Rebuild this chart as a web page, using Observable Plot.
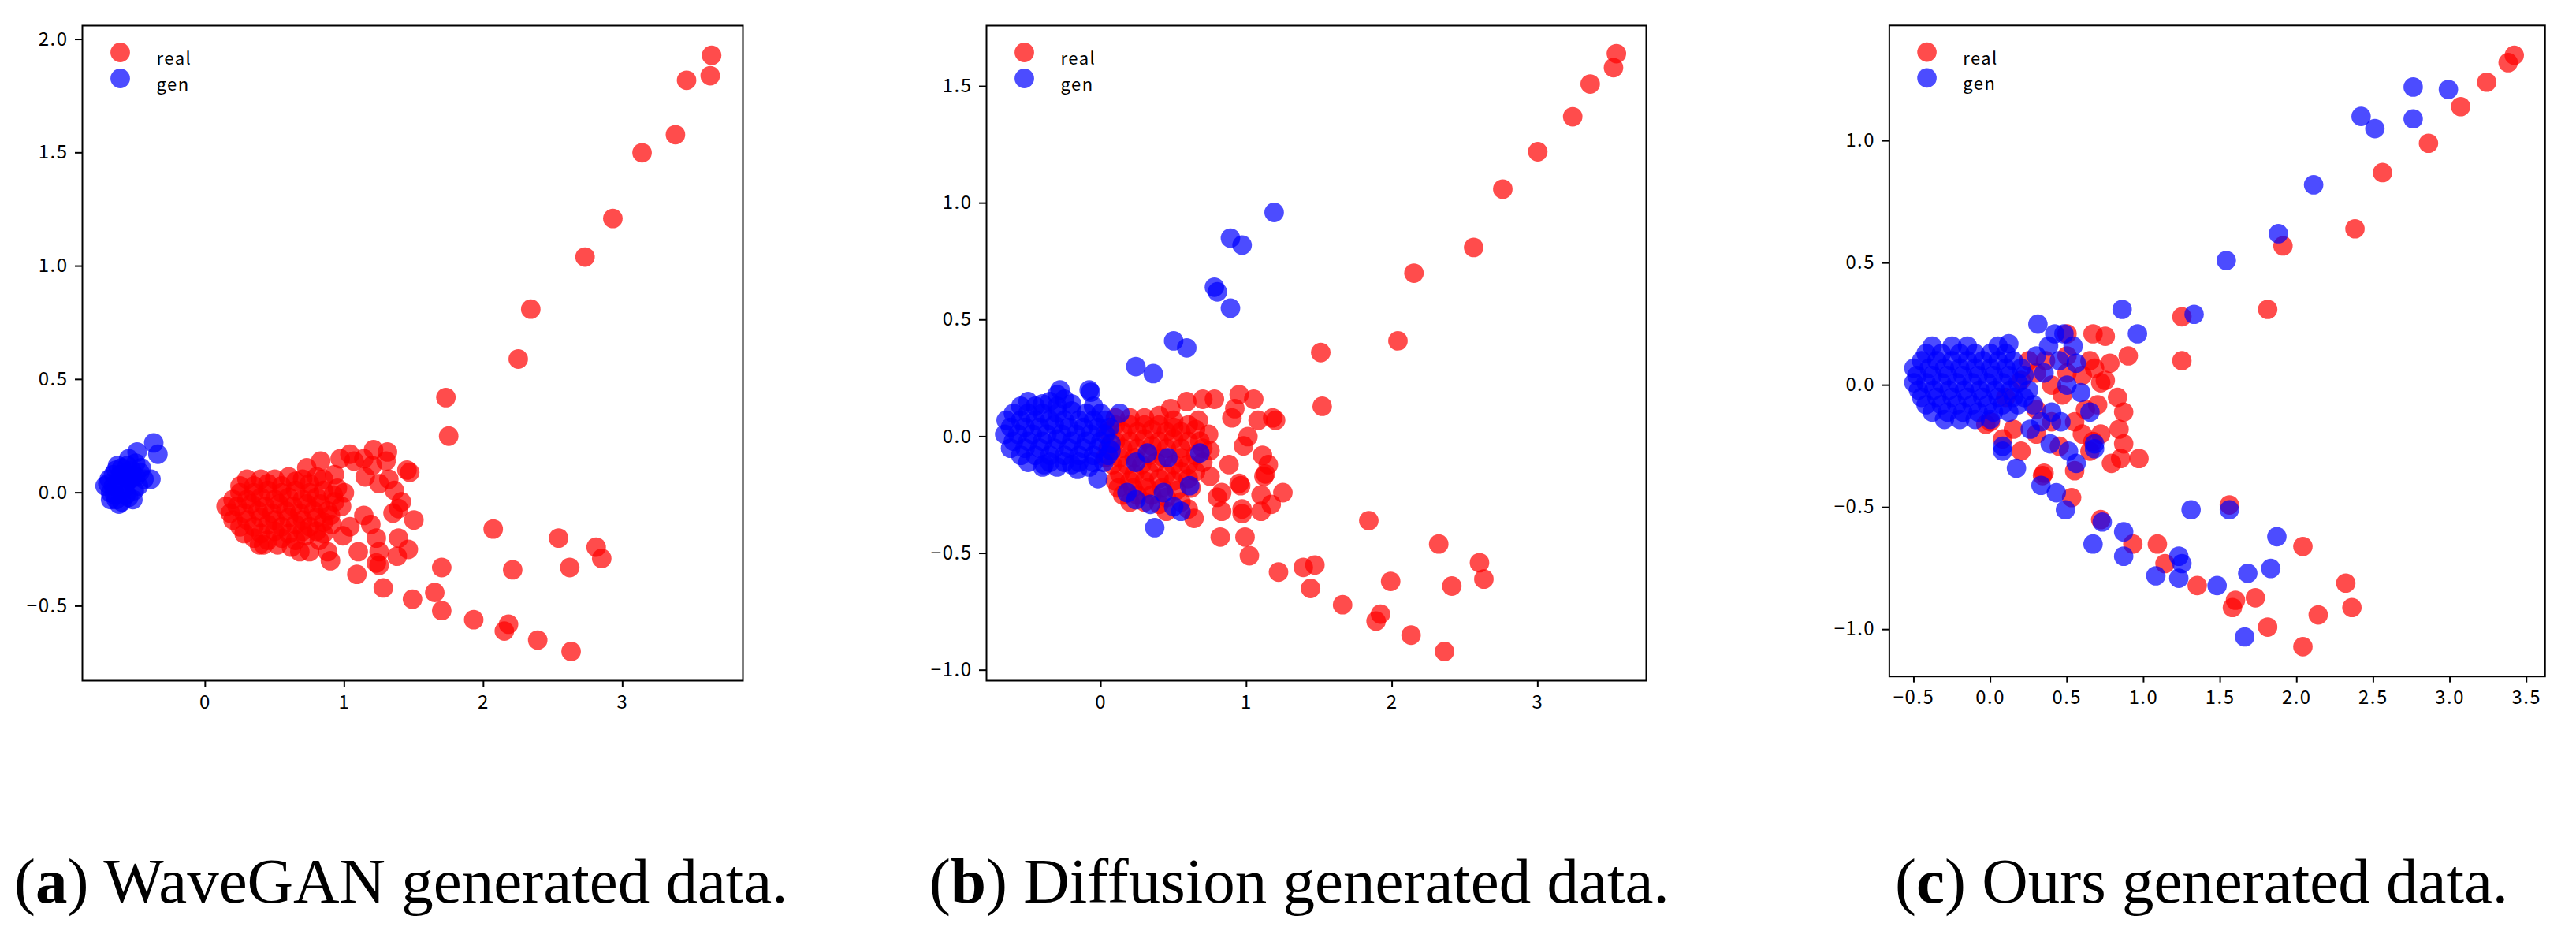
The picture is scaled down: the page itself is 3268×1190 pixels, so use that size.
<!DOCTYPE html>
<html><head><meta charset="utf-8">
<script src="https://cdn.jsdelivr.net/npm/d3@7"></script>
<script src="https://cdn.jsdelivr.net/npm/@observablehq/plot@0.6"></script>
<style>
html,body{margin:0;padding:0;background:#fff;}
body{width:3268px;height:1190px;position:relative;overflow:hidden;}
.panel{position:absolute;top:0;}
.panel svg text{letter-spacing:1.5px;}
.cap{position:absolute;top:1078px;font-family:"Liberation Serif",serif;font-size:81px;line-height:1;white-space:nowrap;color:#000;}
</style></head><body>
<div id="pa" class="panel" style="left:0px"></div>
<div id="pb" class="panel" style="left:1147px"></div>
<div id="pc" class="panel" style="left:2293px"></div>
<div class="cap" style="left:18px">(<b>a</b>) WaveGAN generated data.</div>
<div class="cap" style="left:1179px">(<b>b</b>) Diffusion generated data.</div>
<div class="cap" style="left:2404px">(<b>c</b>) Ours generated data.</div>
<script>
// ---------- Panel (a): WaveGAN ----------
const aReal = [
  [3.64,1.93],[3.63,1.84],[3.46,1.82],[3.38,1.58],[3.14,1.50],[2.93,1.21],[2.73,1.04],[2.34,0.81],[2.25,0.59],
  [1.73,0.42],[1.75,0.25],[2.07,-0.16],[2.54,-0.20],[2.81,-0.24],[2.85,-0.29],[2.62,-0.33],[2.21,-0.34],
  [1.70,-0.33],[1.65,-0.44],[1.70,-0.52],[1.49,-0.47],[1.28,-0.42],[1.09,-0.36],[1.93,-0.56],[2.18,-0.58],
  [2.15,-0.61],[2.39,-0.65],[2.63,-0.70],
  [1.50,-0.12],[1.47,0.09],[1.45,0.10],[1.46,-0.25],[1.39,-0.20],[1.38,-0.28],[1.41,-0.04],[1.36,0.01],
  [1.31,0.18],[1.21,0.19],[1.30,0.14],[1.14,0.15],[1.04,0.17],[0.97,0.15],[0.83,0.14],[0.73,0.11],
  [1.15,0.07],[1.25,0.04],[1.35,-0.09],[1.39,-0.07],[1.14,-0.10],[1.19,-0.14],[1.04,-0.15],[0.99,-0.19],
  [1.23,-0.20],[1.25,-0.26],[1.23,-0.31],[1.25,-0.32],[1.10,-0.26],[0.90,-0.30],[0.88,-0.26],[0.75,-0.26],
  [0.68,-0.26],[0.39,-0.23],[0.91,-0.14],[0.85,-0.18],[1.07,0.14],[1.20,0.12],[1.32,0.06],[0.93,0.08],[0.98,-0.06],
  [0.25,0.03],[0.35,0.03],[0.45,0.04],[0.55,0.03],[0.65,0.05],[0.75,0.04],[0.85,0.06],
  [0.20,-0.03],[0.30,-0.03],[0.40,-0.02],[0.50,-0.03],[0.60,-0.02],[0.70,-0.03],[0.80,-0.02],[0.92,-0.01],[1.00,0.00],
  [0.18,-0.09],[0.28,-0.09],[0.38,-0.08],[0.48,-0.09],[0.58,-0.08],[0.68,-0.09],[0.78,-0.08],[0.88,-0.08],
  [0.25,-0.15],[0.35,-0.15],[0.45,-0.14],[0.55,-0.15],[0.65,-0.14],[0.75,-0.15],[0.85,-0.13],
  [0.35,-0.20],[0.45,-0.21],[0.55,-0.20],[0.65,-0.21],[0.72,-0.19],[0.82,-0.21],
  [0.30,0.06],[0.40,0.06],[0.50,0.06],[0.60,0.07],[0.70,0.06],[0.80,0.07],
  [0.25,0.00],[0.35,0.00],[0.45,0.01],[0.55,0.00],[0.65,0.01],[0.75,0.00],[0.85,0.01],[0.95,0.02],
  [0.15,-0.06],[0.23,-0.06],[0.33,-0.05],[0.43,-0.06],[0.53,-0.05],[0.63,-0.06],[0.73,-0.05],[0.83,-0.05],[0.93,-0.04],
  [0.20,-0.12],[0.30,-0.12],[0.40,-0.11],[0.50,-0.12],[0.60,-0.11],[0.70,-0.12],[0.80,-0.11],[0.90,-0.10],
  [0.28,-0.18],[0.40,-0.18],[0.50,-0.17],[0.60,-0.18],[0.70,-0.17],[0.80,-0.17],
  [0.42,-0.23],[0.52,-0.23],[0.62,-0.24]
];
const aGen = [
  [-0.37,0.22],[-0.34,0.17],[-0.49,0.18],[-0.39,0.06],[-0.52,-0.03],[-0.70,0.04],[-0.68,0.00],[-0.66,0.08],
  [-0.64,-0.03],[-0.62,0.05],[-0.60,0.11],[-0.58,0.02],[-0.56,0.12],[-0.55,-0.02],[-0.52,0.07],[-0.50,0.13],
  [-0.48,0.03],[-0.47,0.09],[-0.60,-0.04],[-0.66,0.03],[-0.72,0.03],[-0.44,0.06],[-0.64,0.10],[-0.58,0.07],
  [-0.69,0.06],[-0.65,-0.01],[-0.61,0.08],[-0.57,0.04],[-0.53,0.10],[-0.51,0.01],[-0.63,0.12],[-0.55,0.15],
  [-0.68,-0.03],[-0.62,-0.05],[-0.57,-0.01],[-0.54,0.06],[-0.46,0.11],[-0.50,0.07]
];
const aXTicks = [0, 1, 2, 3];
const aYTicks = [-0.5, 0, 0.5, 1.0, 1.5, 2.0];

// ---------- Panel (b): Diffusion ----------
const bReal = [
  [3.54,1.64],[3.52,1.58],[3.36,1.51],[3.24,1.37],[3.00,1.22],[2.76,1.06],[2.56,0.81],[2.15,0.70],[2.04,0.41],
  [1.51,0.36],[1.52,0.13],[1.84,-0.36],[2.32,-0.46],[2.60,-0.54],[2.63,-0.61],[2.41,-0.64],[1.99,-0.62],
  [1.47,-0.55],[1.39,-0.56],[1.44,-0.65],[1.66,-0.72],[1.92,-0.76],[1.89,-0.79],[2.13,-0.85],[2.36,-0.92],
  [1.22,-0.58],[1.02,-0.51],[0.99,-0.43],[0.82,-0.43],[0.64,-0.35],
  [1.25,-0.24],[1.20,0.07],[1.18,0.08],[1.08,0.07],[1.05,0.16],[0.95,0.18],[0.90,0.08],[1.01,0.00],[0.98,-0.04],
  [1.11,-0.08],[1.15,-0.12],[1.13,-0.16],[1.10,-0.25],[1.17,-0.29],[1.10,-0.32],[0.97,-0.31],[0.83,-0.32],
  [0.95,-0.20],[0.88,-0.12],[0.83,-0.24],[0.75,-0.17],[0.80,-0.26],[0.78,0.16],[0.70,0.16],[0.59,0.15],
  [0.48,0.12],[0.67,0.07],[0.74,0.01],[0.75,-0.06],[0.96,-0.21],[1.12,-0.17],[0.97,-0.33],[0.92,0.12],
  [0.62,-0.22],[0.55,-0.28],
  [0.10,0.08],[0.20,0.08],[0.30,0.08],[0.40,0.09],[0.50,0.07],
  [0.05,0.02],[0.15,0.02],[0.25,0.02],[0.35,0.03],[0.45,0.02],[0.55,0.02],[0.65,0.03],
  [0.05,-0.05],[0.15,-0.05],[0.25,-0.05],[0.35,-0.04],[0.45,-0.05],[0.55,-0.05],[0.70,-0.05],
  [0.08,-0.12],[0.18,-0.12],[0.28,-0.12],[0.38,-0.11],[0.50,-0.12],[0.60,-0.12],[0.70,-0.11],
  [0.10,-0.19],[0.20,-0.19],[0.30,-0.19],[0.40,-0.18],[0.50,-0.19],[0.60,-0.18],
  [0.15,-0.25],[0.25,-0.25],[0.35,-0.25],[0.45,-0.26],[0.45,-0.32],[0.60,-0.31],
  [0.10,0.05],[0.20,0.05],[0.30,0.05],[0.40,0.05],[0.50,0.04],[0.60,0.05],
  [0.10,-0.02],[0.20,-0.02],[0.30,-0.01],[0.40,-0.02],[0.50,-0.01],[0.60,-0.02],[0.68,-0.02],
  [0.03,-0.09],[0.13,-0.09],[0.23,-0.09],[0.33,-0.08],[0.43,-0.09],[0.55,-0.09],[0.65,-0.08],
  [0.13,-0.16],[0.23,-0.16],[0.33,-0.15],[0.45,-0.16],[0.55,-0.15],[0.65,-0.15],
  [0.12,-0.22],[0.22,-0.22],[0.32,-0.22],[0.42,-0.22],[0.52,-0.23],
  [0.20,-0.28],[0.30,-0.28],[0.40,-0.29]
];
const bGen = [
  [1.19,0.96],[0.89,0.85],[0.97,0.82],[0.78,0.64],[0.80,0.62],[0.89,0.55],[0.50,0.41],[0.59,0.38],[0.24,0.30],
  [0.36,0.27],[-0.08,0.20],[-0.07,0.19],[0.13,0.10],[0.37,-0.39],[0.55,-0.32],[0.50,-0.30],[0.34,-0.29],
  [0.24,-0.27],[0.18,-0.24],[0.43,-0.24],[0.61,-0.21],[0.68,-0.07],[0.46,-0.09],[0.32,-0.07],[0.24,-0.11],
  [-0.02,-0.18],[-0.16,-0.14],[-0.39,-0.12],[-0.28,0.20],[-0.30,0.18],
  [-0.50,0.15],[-0.35,0.15],[-0.25,0.16],
  [-0.60,0.10],[-0.50,0.10],[-0.40,0.10],[-0.30,0.10],[-0.20,0.11],[-0.10,0.10],[0.00,0.10],
  [-0.62,0.04],[-0.52,0.04],[-0.42,0.04],[-0.32,0.05],[-0.22,0.04],[-0.12,0.04],[-0.02,0.04],[0.06,0.04],
  [-0.60,-0.02],[-0.50,-0.02],[-0.40,-0.02],[-0.30,-0.01],[-0.20,-0.02],[-0.10,-0.02],[0.00,-0.02],[0.07,-0.03],
  [-0.55,-0.08],[-0.45,-0.08],[-0.35,-0.08],[-0.25,-0.08],[-0.15,-0.08],[-0.05,-0.08],[0.05,-0.08],
  [-0.40,-0.13],[-0.30,-0.13],[-0.20,-0.12],[-0.08,-0.13],
  [-0.55,0.13],[-0.45,0.13],[-0.40,0.14],[-0.30,0.13],[-0.20,0.14],[-0.05,0.13],
  [-0.65,0.07],[-0.55,0.07],[-0.45,0.07],[-0.35,0.07],[-0.25,0.07],[-0.15,0.07],[-0.05,0.07],[0.03,0.07],
  [-0.66,0.01],[-0.57,0.01],[-0.47,0.01],[-0.37,0.01],[-0.27,0.01],[-0.17,0.01],[-0.07,0.01],[0.03,0.01],
  [-0.62,-0.05],[-0.52,-0.05],[-0.42,-0.05],[-0.32,-0.05],[-0.22,-0.05],[-0.12,-0.05],[-0.02,-0.05],[0.07,-0.06],
  [-0.50,-0.11],[-0.35,-0.11],[-0.25,-0.11],[-0.15,-0.11],[-0.05,-0.11],[0.02,-0.11]
];
const bXTicks = [0, 1, 2, 3];
const bYTicks = [-1.0, -0.5, 0, 0.5, 1.0, 1.5];

// ---------- Panel (c): Ours ----------
const cReal = [
  [3.42,1.35],[3.38,1.32],[3.24,1.24],[3.07,1.14],[2.86,0.99],[2.56,0.87],[2.38,0.64],[1.91,0.57],[1.81,0.31],
  [1.25,0.28],[1.25,0.10],[1.56,-0.49],[2.04,-0.66],[2.32,-0.81],[2.36,-0.91],[2.14,-0.94],[1.73,-0.87],
  [1.60,-0.88],[1.58,-0.91],[1.81,-0.99],[2.04,-1.07],[1.35,-0.82],[1.14,-0.73],[1.09,-0.65],[0.93,-0.65],
  [0.72,-0.55],[0.53,-0.46],[0.35,-0.36],[0.34,-0.37],[0.55,-0.35],[0.97,-0.30],[0.85,-0.30],[0.79,-0.32],
  [0.87,-0.24],[0.84,-0.18],[0.87,-0.11],[0.83,-0.05],[0.75,0.02],[0.72,0.01],[0.78,0.09],[0.90,0.12],
  [0.75,0.20],[0.67,0.21],[0.68,0.07],[0.65,-0.27],[0.67,-0.23],[0.20,-0.27],[0.08,-0.22],[-0.03,-0.16],
  [0.50,0.21],[0.47,-0.04],[0.36,0.10],[0.10,-0.05],[0.20,0.02],[0.30,-0.10],[0.40,0.00],[0.50,0.05],
  [0.55,-0.15],[0.60,-0.20],[0.30,-0.20],[0.15,-0.18],[0.65,0.10],[0.70,-0.08],[0.45,-0.25],[0.50,0.12],
  [0.00,-0.15],[0.60,0.04],[0.40,-0.15],[0.25,0.10],[0.30,0.05],[0.62,-0.10],[0.72,-0.20]
];
const cGen = [
  [2.76,1.22],[2.99,1.21],[2.76,1.09],[2.42,1.10],[2.51,1.05],[2.11,0.82],[1.88,0.62],[1.54,0.51],[1.33,0.29],
  [0.86,0.31],[0.96,0.21],[0.31,0.25],[1.31,-0.51],[1.56,-0.51],[0.73,-0.56],[1.87,-0.62],[1.83,-0.75],
  [1.68,-0.77],[1.48,-0.82],[1.23,-0.70],[1.25,-0.73],[1.23,-0.79],[1.08,-0.78],[0.87,-0.70],[0.87,-0.60],
  [0.67,-0.65],[1.66,-1.03],[0.49,-0.51],[0.43,-0.44],[0.33,-0.41],[0.17,-0.34],[0.08,-0.27],[0.08,-0.25],
  [0.56,-0.32],[0.51,-0.27],[0.39,-0.24],[0.68,-0.24],[0.68,-0.26],[0.65,-0.11],[0.59,-0.03],[0.56,0.09],
  [0.54,0.16],[0.42,0.21],[0.48,0.21],[0.40,-0.11],[0.46,-0.15],[0.26,-0.18],
  [0.30,0.12],[0.35,0.05],[0.28,-0.08],[0.38,0.16],[0.45,0.10],[0.33,-0.15],[0.50,0.00],
  [-0.38,0.16],[-0.25,0.16],[-0.15,0.16],[0.05,0.16],[0.12,0.17],
  [-0.45,0.10],[-0.35,0.10],[-0.25,0.10],[-0.15,0.10],[-0.05,0.10],[0.05,0.10],[0.15,0.10],
  [-0.48,0.04],[-0.38,0.04],[-0.28,0.04],[-0.18,0.04],[-0.08,0.04],[0.02,0.04],[0.12,0.04],[0.22,0.04],
  [-0.47,-0.02],[-0.37,-0.02],[-0.27,-0.02],[-0.17,-0.02],[-0.07,-0.02],[0.03,-0.02],[0.13,-0.02],[0.25,-0.02],
  [-0.42,-0.08],[-0.32,-0.08],[-0.22,-0.08],[-0.12,-0.08],[-0.02,-0.08],[0.08,-0.08],[0.18,-0.08],
  [-0.30,-0.14],[-0.20,-0.14],[-0.10,-0.14],[0.00,-0.14],
  [-0.42,0.13],[-0.32,0.13],[-0.20,0.13],[-0.10,0.13],[0.00,0.13],[0.10,0.13],
  [-0.50,0.07],[-0.40,0.07],[-0.30,0.07],[-0.20,0.07],[-0.10,0.07],[0.00,0.07],[0.10,0.07],[0.20,0.07],
  [-0.50,0.01],[-0.42,0.01],[-0.32,0.01],[-0.22,0.01],[-0.12,0.01],[-0.02,0.01],[0.08,0.01],[0.18,0.01],
  [-0.45,-0.05],[-0.35,-0.05],[-0.25,-0.05],[-0.15,-0.05],[-0.05,-0.05],[0.05,-0.05],[0.15,-0.05],[0.22,-0.05],
  [-0.38,-0.11],[-0.28,-0.11],[-0.18,-0.11],[-0.08,-0.11],[0.02,-0.11],[0.12,-0.11]
];
const cXTicks = [-0.5, 0.0, 0.5, 1.0, 1.5, 2.0, 2.5, 3.0, 3.5];
const cYTicks = [-1.0, -0.5, 0.0, 0.5, 1.0];

const legendLabels = ["real", "gen"];
const seriesColors = ["red", "blue"];

function panel(real, gen, xDomain, yDomain, xTicks, yTicks, xFmt, frameW) {
  const realRows = real.map(([x, y]) => ({x, y}));
  const genRows = gen.map(([x, y]) => ({x, y}));
  const R = 12.4;
  return Plot.plot({
    width: 104 + frameW + 40, height: 930,
    marginLeft: 104, marginRight: 40, marginTop: 32, marginBottom: 67,
    style: {fontFamily: "'Noto Sans CJK SC', sans-serif", fontSize: "24px", color: "black", background: "white"},
    x: {domain: xDomain, label: null},
    y: {domain: yDomain, label: null},
    marks: [
      Plot.dot(realRows, {x: "x", y: "y", r: R, fill: seriesColors[0], fillOpacity: 0.7, stroke: "none"}),
      Plot.dot(genRows, {x: "x", y: "y", r: R, fill: seriesColors[1], fillOpacity: 0.7, stroke: "none"}),
      Plot.frame({stroke: "black", strokeWidth: 2}),
      Plot.axisX(xTicks, {label: null, tickSize: 8, tickPadding: 10, tickFormat: xFmt, strokeWidth: 2, fontSize: 24}),
      Plot.axisY(yTicks, {label: null, tickSize: 9, tickPadding: 9, tickFormat: d3.format(".1f"), strokeWidth: 2, fontSize: 24}),
      Plot.dot([legendLabels[0]], {frameAnchor: "top-left", dx: 48, dy: 34, r: R, fill: seriesColors[0], fillOpacity: 0.7}),
      Plot.dot([legendLabels[1]], {frameAnchor: "top-left", dx: 48, dy: 67, r: R, fill: seriesColors[1], fillOpacity: 0.7}),
      Plot.text([legendLabels[0]], {frameAnchor: "top-left", dx: 94, dy: 34, text: d => d, textAnchor: "start", fontSize: 22, fill: "black"}),
      Plot.text([legendLabels[1]], {frameAnchor: "top-left", dx: 94, dy: 67, text: d => d, textAnchor: "start", fontSize: 22, fill: "black"})
    ]
  });
}

document.getElementById("pa").append(panel(aReal, aGen, [-0.883, 3.865], [-0.829, 2.061], aXTicks, aYTicks, d3.format("d"), 838));
document.getElementById("pb").append(panel(bReal, bGen, [-0.785, 3.745], [-1.045, 1.760], bXTicks, bYTicks, d3.format("d"), 837));
document.getElementById("pc").append(panel(cReal, cGen, [-0.660, 3.621], [-1.192, 1.472], cXTicks, cYTicks, d3.format(".1f"), 837));
</script>
</body></html>
